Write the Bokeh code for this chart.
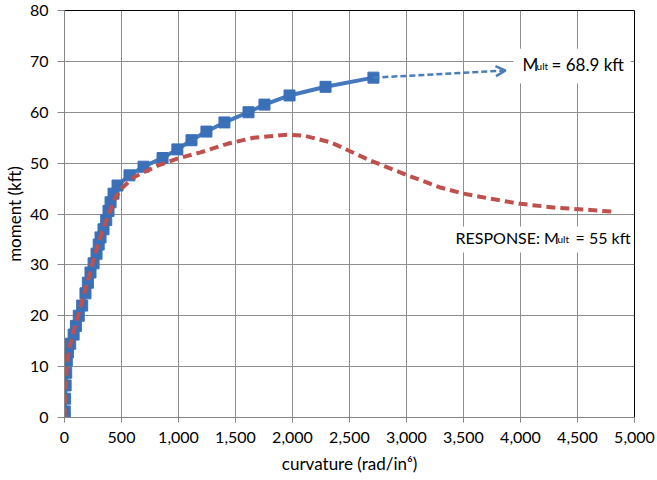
from bokeh.plotting import figure
from bokeh.models import (Range1d, SingleIntervalTicker, NumeralTickFormatter, Label,
                          BoxAnnotation, Arrow, OpenHead)
from bokeh.embed import file_html
from bokeh.resources import INLINE

# ---- data ----
model_curv = [0, 2, 5, 10, 15, 20, 30, 50, 80, 100, 125, 155, 184, 205, 228, 255, 281, 300,
              316, 342, 366, 386, 404, 430, 465, 570, 693, 860, 990, 1114, 1245, 1403,
              1614, 1754, 1974, 2290, 2710]
model_moment = [0, 1.2, 3.7, 6.3, 8.8, 11.2, 12.8, 14.5, 16.3, 18.0, 20.0, 22.0, 24.4, 26.5,
                28.5, 30.3, 32.2, 34.0, 35.4, 37.0, 38.8, 40.6, 42.3, 44.0, 45.6, 47.6, 49.3,
                51.0, 52.7, 54.5, 56.2, 58.0, 60.0, 61.5, 63.3, 65.0, 66.8]

resp_curv = [0, 10, 20, 40, 80, 130, 180, 230, 280, 330, 380, 420, 447, 500, 605, 816, 991,
             1193, 1430, 1658, 1956, 2100, 2333, 2684, 3009, 3298, 3500, 3737, 4000, 4325,
             4614, 4833]
resp_moment = [0, 5, 10, 13.5, 17, 21, 25, 29, 33, 36.5, 39.5, 41.8, 43.2, 45.0, 47.2, 49.5,
               50.9, 52.1, 53.8, 55.0, 55.6, 55.4, 54.1, 50.5, 47.6, 45.2, 44.0, 43.0, 42.0,
               41.2, 40.8, 40.4]

ext_curv = [2710, 3870]
ext_moment = [66.8, 68.2]

FONT = "Lato"

p = figure(width=657, height=480, output_backend="svg", toolbar_location=None,
           x_range=Range1d(0, 5000), y_range=Range1d(0, 80))
p.min_border_left = 64
p.min_border_right = 23
p.min_border_top = 10
p.min_border_bottom = 63
p.outline_line_color = "black"
p.outline_line_width = 1
p.background_fill_color = "white"
p.border_fill_color = "white"

p.xaxis.ticker = SingleIntervalTicker(interval=500)
p.yaxis.ticker = SingleIntervalTicker(interval=10)
p.xaxis.formatter = NumeralTickFormatter(format="0,0")

for ax in (p.xaxis, p.yaxis):
    ax.axis_line_color = "#868686"
    ax.major_tick_line_color = "#868686"
    ax.minor_tick_line_color = None
    ax.major_tick_in = 0
    ax.major_label_text_font = FONT
    ax.major_label_text_font_size = "16px"
    ax.major_label_text_color = "black"
    ax.axis_label_text_font = FONT
    ax.axis_label_text_font_size = "17px"
    ax.axis_label_text_font_style = "normal"
    ax.axis_label_text_color = "black"

p.xaxis.major_tick_out = 5
p.yaxis.major_tick_out = 7
p.xaxis.major_label_standoff = 9
p.yaxis.major_label_standoff = 9
p.xaxis.axis_label = "curvature (rad/in\u2076)"
p.yaxis.axis_label = "moment (kft)"
p.xaxis.axis_label_standoff = 7
p.yaxis.axis_label_standoff = 2

p.grid.grid_line_color = "#8E8E8E"
p.grid.grid_line_width = 1

# model curve (blue)
p.line(model_curv, model_moment, line_color="#4579BE", line_width=4)
p.scatter(model_curv, model_moment, marker="square", size=11,
          fill_color="#3A70B8", line_color="#3A70B8")

# response curve (red dashed)
p.line(resp_curv, resp_moment, line_color="#C0504D", line_width=4, line_dash="9 5")

# extension arrow
p.add_layout(Arrow(x_start=ext_curv[0], y_start=ext_moment[0],
                   x_end=ext_curv[1], y_end=ext_moment[1],
                   line_color="#4A7EBB", line_width=2.5, line_dash="6 3",
                   end=OpenHead(size=10, line_color="#4A7EBB", line_width=2.5)))

# label backgrounds
p.add_layout(BoxAnnotation(left=3939, right=4965, top=72.5, bottom=65.65,
                           fill_color="white", fill_alpha=1, line_color=None))
p.add_layout(BoxAnnotation(left=3386, right=4965, top=37.54, bottom=32.43,
                           fill_color="white", fill_alpha=1, line_color=None))

def lab(x, y, text, size, xo=0, yo=0):
    p.add_layout(Label(x=x, y=y, text=text, x_offset=xo, y_offset=yo,
                       text_font=FONT, text_font_size=size, text_color="black",
                       text_baseline="alphabetic", text_align="left"))

# M_ult = 68.9 kft
lab(4018, 69.4, "M", "17px")
lab(4018, 69.4, "ult", "10px", xo=14, yo=-2)
lab(4018, 69.4, "=  68.9 kft", "17px", xo=29)

# RESPONSE: M_ult = 55 kft
lab(3430, 35.4, "RESPONSE: M", "16px")
lab(3430, 35.4, "ult", "10px", xo=102, yo=-2)
lab(3430, 35.4, "=  55 kft", "16px", xo=120)

open("out.html", "w").write(file_html(p, INLINE))
